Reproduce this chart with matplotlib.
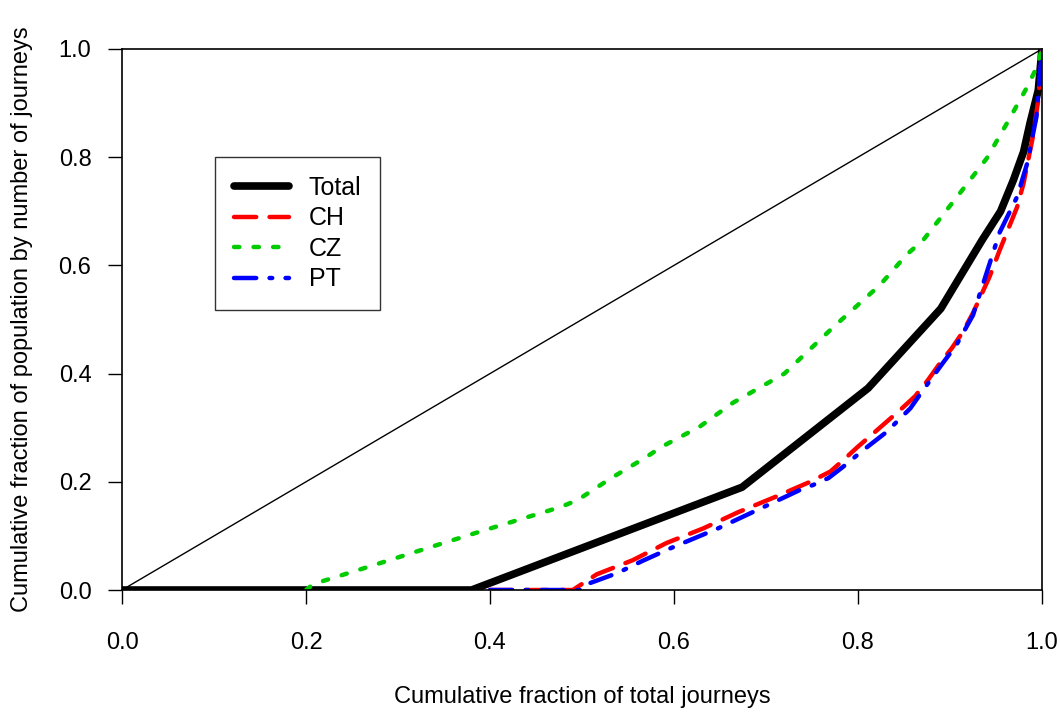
import numpy as np
import matplotlib
matplotlib.use("Agg")
import matplotlib.pyplot as plt

plt.rcParams['font.family'] = ['Liberation Sans', 'DejaVu Sans']

# Lorenz-type curves
total_x = [0.0, 0.38, 0.674, 0.811, 0.89, 0.935, 0.955, 0.969, 0.98, 0.987, 0.996, 1.0]
total_y = [0.0, 0.0, 0.19, 0.373, 0.52, 0.647, 0.70, 0.758, 0.81, 0.863, 0.924, 1.0]

ch_x = [0.40, 0.49, 0.516, 0.555, 0.592, 0.632, 0.67, 0.71, 0.748, 0.77, 0.784, 0.80,
        0.815, 0.846, 0.862, 0.876, 0.889, 0.902, 0.914, 0.925, 0.943, 0.954, 0.973,
        0.98, 0.99, 0.996, 1.0]
ch_y = [0.0, 0.0, 0.029, 0.055, 0.087, 0.114, 0.144, 0.172, 0.20, 0.219, 0.24, 0.265,
        0.287, 0.333, 0.358, 0.388, 0.419, 0.447, 0.477, 0.512, 0.579, 0.628, 0.708,
        0.752, 0.837, 0.906, 1.0]

cz_x = [0.20, 0.208, 0.27, 0.331, 0.393, 0.476, 0.495, 0.512, 0.53, 0.57, 0.588, 0.628,
        0.664, 0.72, 0.772, 0.824, 0.853, 0.871, 0.911, 0.94, 0.962, 0.984, 0.994, 1.0]
cz_y = [0.0, 0.011, 0.044, 0.077, 0.11, 0.153, 0.166, 0.185, 0.205, 0.246, 0.266, 0.302,
        0.346, 0.40, 0.484, 0.564, 0.62, 0.647, 0.734, 0.798, 0.863, 0.93, 0.965, 1.0]

pt_x = [0.40, 0.50, 0.509, 0.538, 0.566, 0.596, 0.648, 0.702, 0.737, 0.751, 0.768,
        0.784, 0.806, 0.831, 0.857, 0.871, 0.892, 0.907, 0.925, 0.954, 0.973, 0.984,
        0.994, 1.0]
pt_y = [0.0, 0.0, 0.013, 0.031, 0.054, 0.077, 0.114, 0.157, 0.185, 0.194, 0.207,
        0.228, 0.259, 0.292, 0.336, 0.37, 0.419, 0.453, 0.508, 0.661, 0.727, 0.789,
        0.875, 1.0]

ticks = [0.0, 0.2, 0.4, 0.6, 0.8, 1.0]

fig = plt.figure(figsize=(10.6, 7.13), dpi=100)
ax = fig.add_axes([0.1151, 0.1725, 0.8679, 0.7588])

# line of equality
ax.plot([0, 1], [0, 1], color='black', lw=1.0)

ax.plot(total_x, total_y, color='black', lw=5.5, label='Total',
        solid_capstyle='round', solid_joinstyle='round')
ax.plot(ch_x, ch_y, color='#ff0000', lw=3.2, label='CH',
        dashes=(5, 3), dash_capstyle='round')
ax.plot(cz_x, cz_y, color='#00cc00', lw=3.2, label='CZ',
        dashes=(1.2, 3.2), dash_capstyle='round')
ax.plot(pt_x, pt_y, color='#0000ff', lw=3.2, label='PT',
        dashes=(5, 3, 0.6, 3), dash_capstyle='round')

ax.set_xlim(0, 1)
ax.set_ylim(0, 1)
ax.set_xticks(ticks)
ax.set_yticks(ticks)
ax.set_xticklabels([f"{t:.1f}" for t in ticks])
ax.set_yticklabels([f"{t:.1f}" for t in ticks])
ax.tick_params(direction='out', length=10, width=1, labelsize=17)
ax.tick_params(axis='x', pad=20)
ax.tick_params(axis='y', pad=12)
for s in ax.spines.values():
    s.set_linewidth(1.2)

ax.set_xlabel("Cumulative fraction of total journeys", fontsize=17)
ax.set_ylabel("Cumulative fraction of population by number of journeys", fontsize=17)
ax.xaxis.set_label_coords(0.5, -0.177)
ax.yaxis.set_label_coords(-0.097, 0.5)

leg = ax.legend(loc='upper left', bbox_to_anchor=(0.101, 0.80), fontsize=18,
                frameon=True, fancybox=False, edgecolor='black', handlelength=2.2,
                handletextpad=0.8, borderpad=0.75, labelspacing=0.26, borderaxespad=0)
leg.get_frame().set_linewidth(1.0)

fig.savefig("out.png", dpi=100)
